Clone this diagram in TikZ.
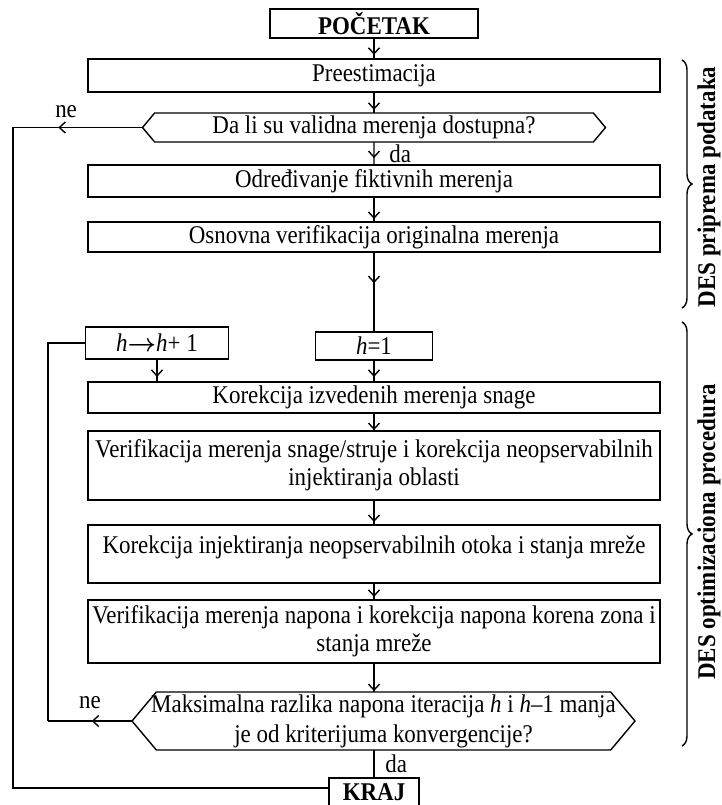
\documentclass[tikz,border=0pt]{standalone}
\usepackage{amsmath}
\usepackage{fontspec}
\setmainfont{Liberation Serif}[FakeStretch=0.9]
\usepackage{tikz}
\usetikzlibrary{positioning,shapes.symbols,arrows.meta,decorations.markings,decorations.pathreplacing}
\newcommand{\fsz}{\fontsize{25.5}{28}\selectfont}

\begin{document}
\begin{tikzpicture}[x=1pt,y=-1pt,line width=1.4pt,
    every node/.append style={font=\fsz,outer sep=0pt},
    box/.style={draw,rectangle,minimum width=572pt,inner sep=2pt,align=center},
    startbox/.style={draw,rectangle,inner sep=2pt,font=\fsz\bfseries},
    decision/.style={draw,shape=signal,signal to=west and east,signal pointer angle=100,inner sep=2pt,align=center},
    arr/.style={postaction={decorate},decoration={markings,mark=at position #1 with {\arrow{Straight Barb[length=6pt,width=11pt]}}}},
    arr/.default=.8]
  \useasboundingbox (0,0) rectangle (721,805);

  \node[startbox,minimum width=208pt,minimum height=29pt] (poc) at (374,23.5) {POČETAK};
  \node[box,minimum height=33pt,below=21pt of poc] (pre) {Preestimacija};
  \node[decision,minimum width=463pt,minimum height=29pt,below=21pt of pre] (dost) {Da li su validna merenja dostupna?};
  \node[box,minimum height=32pt,below=23pt of dost] (fikt) {Određivanje fiktivnih merenja};
  \node[box,minimum height=30pt,below=25pt of fikt] (osn) {Osnovna verifikacija originalna merenja};
  \node[box,minimum width=117pt,minimum height=28pt,below=80pt of osn] (hjed) {\textit{h}=1};
  \node[box,minimum width=143pt,minimum height=32pt,left=87pt of hjed,yshift=3pt] (hinc) {\textit{h}$\boldsymbol{\rightarrow}$\textit{h}+ 1};
  \node[box,minimum height=31pt,below=22pt of hjed] (kor) {Korekcija izvedenih merenja snage};
  \node[box,minimum height=69pt,below=18pt of kor] (ver) {Verifikacija merenja snage/struje i korekcija neopservabilnih\\injektiranja oblasti};
  \node[box,text height=26pt,text depth=28pt,below=25pt of ver] (inj) {Korekcija injektiranja neopservabilnih otoka i stanja mreže};
  \node[box,minimum height=63pt,below=17pt of inj] (nap) {Verifikacija merenja napona i korekcija napona korena zona i\\stanja mreže};
  \node[decision,minimum width=503pt,minimum height=58pt,below=29pt of nap,xshift=9.5pt] (konv)
    {\makebox[0pt]{Maksimalna razlika napona iteracija \textit{h} i \textit{h}–1 manja}\\[2pt]\makebox[0pt]{je od kriterijuma konvergencije?}};
  \node[startbox,minimum width=90pt,minimum height=28pt,below=28pt of konv,xshift=-9.5pt] (kraj) {KRAJ};

  \coordinate[left=129.5pt of dost.west] (ne1);
  \coordinate[left=84pt of konv.west] (ne2);

  \path (poc) edge[arr=.8] (pre)
        (pre) edge[arr=.85] (dost)
        (dost) edge[arr=.7] node[right=12pt] {da} (fikt)
        (fikt) edge[arr=.88] (osn)
        (osn) edge[arr=.39] (hjed)
        (hjed) edge[arr=.77] (kor)
        (hinc) edge[arr=.78] (hinc.south |- kor.north)
        (kor) edge[arr=.95] (ver)
        (ver) edge[arr=.88] (inj)
        (inj) edge[arr=.82] (nap)
        (nap) edge[arr=.97] (nap.south |- konv.north);
  \draw (kraj.north |- konv.south) -- node[right=8pt] {da} (kraj);

  \draw[arr=.65] (dost.west) -- node[pos=.59,above=6pt] {ne} (ne1);
  \draw (ne1) |- ([yshift=-10pt]kraj.north west);
  \draw[arr=.48] (konv.west) -- node[pos=.5,above=9pt] {ne} (ne2);
  \draw (ne2) |- (hinc.west);

  \draw[decorate,decoration={brace,amplitude=10pt}] (682,60) -- (682,308);
  \draw[decorate,decoration={brace,amplitude=10pt}] (682,322) -- (682,746);
  \node[rotate=90,font=\fsz\bfseries] (prip) at (709,187) {DES priprema podataka};
  \node[rotate=90,font=\fsz\bfseries] (opt) at (709,532) {DES optimizaciona procedura};
\end{tikzpicture}
\end{document}
